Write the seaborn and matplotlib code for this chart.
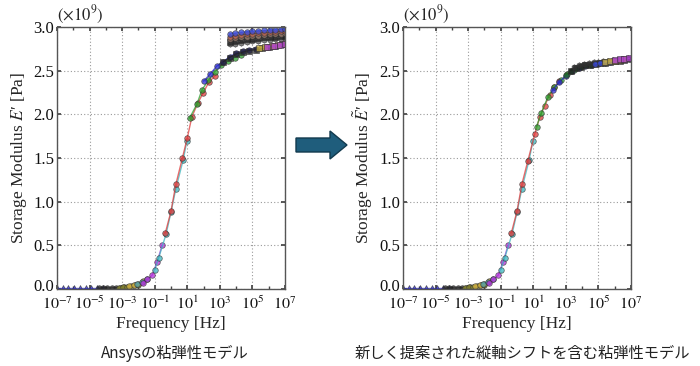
import numpy as np
import matplotlib
matplotlib.use("Agg")
import matplotlib.pyplot as plt
import seaborn as sns
from matplotlib.patches import Polygon
from matplotlib.ticker import FixedLocator, NullFormatter
from matplotlib.transforms import ScaledTranslation

# ---------------- data: log10 frequency [Hz] and E' [x1e9 Pa] ----------------
# low-frequency segments (same in both panels)
blue_tri_logf = [-7.0, -6.65, -6.3, -5.95, -5.6, -5.25, -4.9, -4.55, -4.2]
blue_tri_E = [0.01, 0.01, 0.01, 0.01, 0.01, 0.01, 0.01, 0.01, 0.01]
black_logf = [-4.4, -4.15, -3.9, -3.65, -3.4, -3.15, -2.9]
black_E = [0.01, 0.01, 0.011, 0.012, 0.014, 0.017, 0.02]
olive_logf = [-3.2, -2.95, -2.7, -2.45, -2.2, -2.0]
olive_E = [0.015, 0.02, 0.026, 0.034, 0.043, 0.05]
gold_logf = [-2.6, -2.3, -2.0, -1.7]
gold_E = [0.03, 0.045, 0.06, 0.09]
teal_logf = [-2.1, -1.8, -1.5]
teal_E = [0.06, 0.08, 0.11]
magenta_logf = [-1.7, -1.45, -1.15, -0.85, -0.55]
magenta_E = [0.07, 0.11, 0.16, 0.31, 0.50]
cyan_logf = [-1.0, -0.75, -0.3, 0.0, 0.3, 0.75, 0.98]
cyan_E = [0.22, 0.36, 0.63, 0.88, 1.15, 1.48, 1.70]

# left panel (Ansys model)
left_red_logf = [-0.35, 0.0, 0.3, 0.7, 1.0, 1.28, 1.65, 1.96, 2.33, 2.7]
left_red_E = [0.64, 0.89, 1.20, 1.50, 1.73, 1.97, 2.13, 2.24, 2.37, 2.44]
left_green_logf = [1.15, 1.6, 1.9, 2.3, 2.7, 3.1, 3.5, 3.9, 4.3]
left_green_E = [1.96, 2.12, 2.28, 2.39, 2.49, 2.56, 2.61, 2.65, 2.68]
left_blue_logf = [2.0, 2.4, 2.8, 3.2, 3.6, 4.0, 4.4, 4.8, 5.2]
left_blue_E = [2.38, 2.46, 2.55, 2.60, 2.66, 2.70, 2.72, 2.74, 2.75]
left_black_logf = [3.2, 3.6, 4.0, 4.4, 4.8, 5.2, 5.6, 6.0, 6.4, 6.8]
left_black_E = [2.60, 2.65, 2.69, 2.71, 2.73, 2.74, 2.76, 2.77, 2.78, 2.80]
left_upper_logf = [3.6, 3.95, 4.3, 4.65, 5.0, 5.35, 5.7, 6.05, 6.4, 6.75, 7.0]
left_u1_E = [2.92, 2.93, 2.94, 2.945, 2.95, 2.955, 2.96, 2.965, 2.97, 2.975, 2.98]
left_u2_E = [2.89, 2.90, 2.91, 2.92, 2.925, 2.93, 2.935, 2.94, 2.945, 2.95, 2.955]
left_u3_E = [2.86, 2.87, 2.88, 2.89, 2.895, 2.90, 2.91, 2.915, 2.92, 2.925, 2.93]
left_u4_E = [2.83, 2.84, 2.85, 2.86, 2.865, 2.87, 2.88, 2.885, 2.89, 2.895, 2.90]
left_u5_E = [2.80, 2.81, 2.82, 2.83, 2.835, 2.84, 2.85, 2.855, 2.86, 2.865, 2.87]
left_olive_s_logf = [5.4, 5.8, 6.2, 6.6, 7.0]
left_olive_s_E = [2.76, 2.77, 2.78, 2.79, 2.80]
left_mag_s_logf = [5.9, 6.3, 6.7, 7.0]
left_mag_s_E = [2.77, 2.78, 2.79, 2.80]

# right panel (proposed model with vertical shift)
right_red_logf = [-0.35, 0.0, 0.3, 0.67, 1.1, 1.4, 1.7, 2.0, 2.3, 2.6]
right_red_E = [0.64, 0.89, 1.20, 1.47, 1.78, 1.97, 2.10, 2.22, 2.31, 2.38]
right_green_logf = [1.2, 1.5, 1.9, 2.3, 2.7, 3.1, 3.5, 3.9]
right_green_E = [1.86, 2.02, 2.20, 2.31, 2.39, 2.46, 2.51, 2.54]
right_blue_logf = [2.2, 2.6, 3.0, 3.4, 3.8, 4.2, 4.6, 5.0, 5.4]
right_blue_E = [2.28, 2.37, 2.44, 2.50, 2.53, 2.55, 2.57, 2.58, 2.59]
right_dgreen_logf = [3.0, 3.3, 3.6, 3.9, 4.2, 4.5]
right_dgreen_E = [2.45, 2.50, 2.53, 2.55, 2.56, 2.57]
right_black_logf = [3.3, 3.6, 3.9, 4.2, 4.5, 4.8, 5.1, 5.4, 5.7, 6.0, 6.3, 6.6, 7.0]
right_black_E = [2.50, 2.53, 2.545, 2.56, 2.57, 2.58, 2.585, 2.59, 2.60, 2.61, 2.615, 2.625, 2.635]
right_black2_logf = [3.5, 3.8, 4.1, 4.4, 4.7, 5.0, 5.3, 5.6, 5.9, 6.2, 6.5, 6.8]
right_black2_E = [2.54, 2.56, 2.575, 2.585, 2.595, 2.60, 2.605, 2.61, 2.62, 2.625, 2.635, 2.645]
right_blue2_logf = [4.8, 5.1, 5.4, 5.7, 6.0]
right_blue2_E = [2.58, 2.59, 2.595, 2.60, 2.61]
right_olive_logf = [5.4, 5.7, 6.0, 6.3, 6.6]
right_olive_E = [2.60, 2.61, 2.615, 2.62, 2.63]
right_mag_logf = [6.0, 6.3, 6.6, 6.9]
right_mag_E = [2.62, 2.63, 2.635, 2.64]

low_segments = [
    (blue_tri_logf, blue_tri_E, "#2a2ad0", "^"),
    (black_logf, black_E, "#222222", "o"),
    (olive_logf, olive_E, "#8a8a30", "o"),
    (gold_logf, gold_E, "#d0b040", "o"),
    (teal_logf, teal_E, "#50a0a8", "o"),
    (magenta_logf, magenta_E, "#b030d8", "o"),
    (cyan_logf, cyan_E, "#3cb8c0", "o"),
]
left_segments = low_segments + [
    (left_red_logf, left_red_E, "#e03c3c", "o"),
    (left_green_logf, left_green_E, "#2ea02e", "o"),
    (left_blue_logf, left_blue_E, "#2a2ad0", "o"),
    (left_black_logf, left_black_E, "#222222", "s"),
    (left_upper_logf, left_u5_E, "#555555", "h"),
    (left_upper_logf, left_u4_E, "#222222", "s"),
    (left_upper_logf, left_u3_E, "#a08070", "o"),
    (left_upper_logf, left_u2_E, "#b05a48", "o"),
    (left_upper_logf, left_u1_E, "#3a4ad8", "o"),
    (left_olive_s_logf, left_olive_s_E, "#c8b040", "s"),
    (left_mag_s_logf, left_mag_s_E, "#b040d0", "s"),
]
right_segments = low_segments + [
    (right_red_logf, right_red_E, "#e03c3c", "o"),
    (right_green_logf, right_green_E, "#2ea02e", "o"),
    (right_blue_logf, right_blue_E, "#2a2ad0", "o"),
    (right_dgreen_logf, right_dgreen_E, "#1e6e1e", "o"),
    (right_black_logf, right_black_E, "#222222", "s"),
    (right_black2_logf, right_black2_E, "#333333", "h"),
    (right_blue2_logf, right_blue2_E, "#3a4ad8", "o"),
    (right_olive_logf, right_olive_E, "#c8b040", "s"),
    (right_mag_logf, right_mag_E, "#b040d0", "s"),
]

major_exp = [-7, -5, -3, -1, 1, 3, 5, 7]
minor_exp = [-6, -4, -2, 0, 2, 4, 6]
y_ticks = [0.0, 0.5, 1.0, 1.5, 2.0, 2.5, 3.0]

# ---------------- styling ----------------
sns.set_theme(style="ticks")
plt.rcParams["font.family"] = ["Liberation Serif", "DejaVu Serif"]
plt.rcParams["mathtext.fontset"] = "stix"

fig = plt.figure(figsize=(7.0, 3.66), dpi=100)
W, H = 700.0, 366.0
ax_left = fig.add_axes([57 / W, 1 - 289 / H, 228 / W, 262 / H])
ax_right = fig.add_axes([403 / W, 1 - 289 / H, 228 / W, 262 / H])


def draw(ax, segments, ylabel):
    for logf, E, color, marker in segments:
        sns.lineplot(x=10.0 ** np.asarray(logf), y=E, ax=ax, color=color,
                     marker=marker, markersize=4, markeredgecolor="#303030",
                     markeredgewidth=0.5, linewidth=1.0, alpha=0.75,
                     sort=False, estimator=None, legend=False)
    ax.set_xscale("log")
    ax.set_xlim(1e-7, 1e7)
    ax.set_ylim(0, 3.0)
    ax.xaxis.set_major_locator(FixedLocator([10.0 ** e for e in major_exp]))
    ax.xaxis.set_minor_locator(FixedLocator([10.0 ** e for e in minor_exp]))
    ax.xaxis.set_minor_formatter(NullFormatter())
    ax.set_xticklabels([r"$10^{%d}$" % e for e in major_exp])
    ax.set_yticks(y_ticks)
    ax.set_yticklabels(["%.1f" % v for v in y_ticks])
    ax.tick_params(axis="both", which="both", direction="in", top=True, right=True,
                   colors="#444444", labelcolor="#111111")
    ax.tick_params(axis="x", pad=5, labelsize=11.5)
    ax.tick_params(axis="y", pad=2, labelsize=12)
    ax.tick_params(which="major", length=3)
    ax.tick_params(which="minor", length=2)
    # lift the "0.0" label a little so it does not collide with the first x label
    lab0 = ax.get_yticklabels()[0]
    lab0.set_transform(lab0.get_transform() + ScaledTranslation(0, 4 / 100, fig.dpi_scale_trans))
    ax.grid(True, which="major", linestyle=(0, (1, 2)), color="#9a9a9a", linewidth=0.8)
    for sp in ax.spines.values():
        sp.set_color("#555555")
        sp.set_linewidth(1.0)
    ax.set_xlabel("Frequency [Hz]", fontsize=12.5, labelpad=2)
    ax.set_ylabel(ylabel, fontsize=12.5, labelpad=3)
    ax.text(0.0, 1.005, r"$(\times 10^{9})$", transform=ax.transAxes,
            ha="left", va="bottom", fontsize=12)


draw(ax_left, left_segments, "Storage Modulus $E$′ [Pa]")
draw(ax_right, right_segments, r"Storage Modulus $\tilde{E}$′ [Pa]")

# arrow between panels
pts = [(296, 138), (330, 138), (330, 131), (347, 145), (330, 159), (330, 152), (296, 152)]
fig.patches.append(Polygon([(x / W, 1 - y / H) for x, y in pts], closed=True,
                           transform=fig.transFigure, facecolor="#1f5d7c",
                           edgecolor="#123a4e", linewidth=1.0))

cjk = ["Noto Sans CJK JP", "DejaVu Sans"]
fig.text(175 / W, 1 - 353 / H, "Ansysの粘弾性モデル", ha="center", va="center",
         fontsize=11, family=cjk, color="#222222")
fig.text(522 / W, 1 - 353 / H, "新しく提案された縦軸シフトを含む粘弾性モデル", ha="center",
         va="center", fontsize=11, family=cjk, color="#222222")

fig.savefig("out.png", dpi=100)
